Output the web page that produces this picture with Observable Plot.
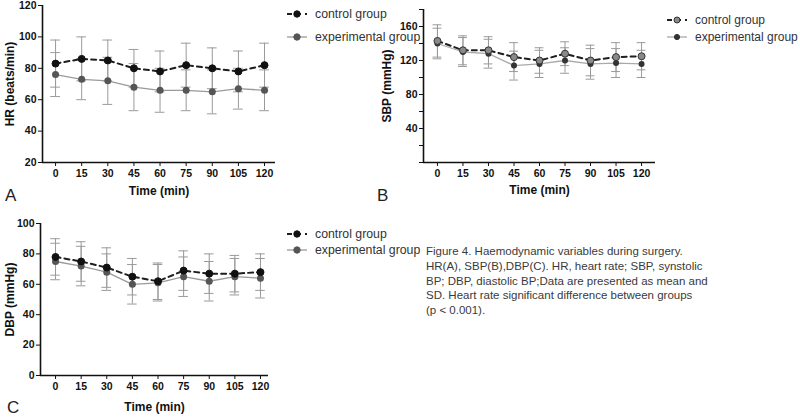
<!DOCTYPE html>
<html><head><meta charset="utf-8">
<script src="https://cdn.jsdelivr.net/npm/d3@7"></script>
<script src="https://cdn.jsdelivr.net/npm/@observablehq/plot@0.6"></script>
<style>
html,body{margin:0;padding:0;background:#fff;}
#wrap{position:relative;width:800px;height:417px;overflow:hidden;font-family:"Liberation Sans",Arial,sans-serif;}
.pan{position:absolute;}
.leg{position:absolute;font-size:13px;color:#333;white-space:nowrap;z-index:5;display:flex;align-items:center;}
.leg svg{margin-right:8px;}
.let{position:absolute;font-size:17px;color:#222;}
#cap{position:absolute;left:426px;top:244px;font-size:11.5px;line-height:14.8px;color:#3a3a3a;white-space:nowrap;z-index:5;}
</style></head>
<body><div id="wrap"></div>
<script>
// ---- data ----
const times = [0, 15, 30, 45, 60, 75, 90, 105, 120];
const groups = ["control group", "experimental group"];

const hrControl   = [83, 86, 85, 80, 78, 82, 80, 78, 82];
const hrControlSD = [15, 14, 13, 12, 13, 14, 13, 13, 14];
const hrExp       = [76, 73, 72, 68, 66, 66, 65, 67, 66];
const hrExpSD     = [14, 13, 15, 15, 14, 13, 14, 13, 13];

const sbpControl   = [143, 132, 132, 124, 120, 128, 120, 124, 125];
const sbpControlSD = [19, 17, 16, 17, 15, 14, 18, 17, 16];
const sbpExp       = [140, 130, 128, 114, 116, 120, 116, 117, 116];
const sbpExpSD     = [18, 17, 17, 17, 16, 15, 18, 17, 16];

const dbpControl   = [78, 75, 71, 65, 62, 69, 67, 67, 68];
const dbpControlSD = [12, 13, 13, 12, 12, 13, 13, 12, 12];
const dbpExp       = [75, 72, 68, 60, 61, 65, 62, 65, 64];
const dbpExpSD     = [12, 13, 12, 13, 12, 13, 13, 12, 13];

const hrTicks  = [20, 40, 60, 80, 100, 120];
const sbpTicks = [0, 20, 40, 60, 80, 100, 120, 140, 160, 180];
const sbpLabeled = [40, 80, 120, 160];
const dbpTicks = [0, 20, 40, 60, 80, 100];

const captionLines = [
  "Figure 4. Haemodynamic variables during surgery.",
  "HR(A), SBP(B),DBP(C). HR, heart rate; SBP, synstolic",
  "BP; DBP, diastolic BP;Data are presented as mean and",
  "SD. Heart rate significant difference between groups",
  "(p < 0.001)."
];

function rows(t, c, cs, e, es) {
  return t.flatMap((x, i) => [
    {t: x, g: groups[0], m: c[i], sd: cs[i]},
    {t: x, g: groups[1], m: e[i], sd: es[i]}
  ]);
}

function panel(o) {
  const data = o.data;
  const ctrl = data.filter(d => d.g === groups[0]);
  const exp = data.filter(d => d.g === groups[1]);
  const ch = o.capHalf;
  return Plot.plot({
    width: o.width, height: o.height,
    marginLeft: o.ml, marginRight: o.mr, marginTop: o.mt, marginBottom: o.mb,
    style: {fontFamily: "'Liberation Sans', Arial, sans-serif", fontSize: "10.5px", fontWeight: "bold", color: "#111", background: "transparent", overflow: "visible"},
    x: {domain: o.xDomain, ticks: times, tickSize: 4, tickPadding: 3, label: null},
    y: {domain: o.yDomain, ticks: o.yTicks, tickSize: 4, tickPadding: 2, label: null, tickFormat: o.yFormat || (d => d)},
    marks: [
      // error bars
      Plot.ruleX(data, {x: "t", y1: d => d.m - d.sd, y2: d => d.m + d.sd, stroke: "#9a9a9a", strokeWidth: 1}),
      Plot.ruleY(data, {y: d => d.m + d.sd, x1: d => d.t - ch, x2: d => d.t + ch, stroke: "#9a9a9a", strokeWidth: 1}),
      Plot.ruleY(data, {y: d => d.m - d.sd, x1: d => d.t - ch, x2: d => d.t + ch, stroke: "#9a9a9a", strokeWidth: 1}),
      // lines
      Plot.line(exp, {x: "t", y: "m", stroke: o.expLine, strokeWidth: 1.3}),
      Plot.line(ctrl, {x: "t", y: "m", stroke: "#1e1e1e", strokeWidth: 2, strokeDasharray: "5,4"}),
      Plot.dot(exp, {x: "t", y: "m", r: o.expR, fill: o.expDot}),
      Plot.dot(ctrl, {x: "t", y: "m", r: 3.5, fill: o.ctrlFill, stroke: o.ctrlStroke, strokeWidth: 1}),
      // axis lines
      Plot.ruleX([o.xDomain[0]], {stroke: "#111", strokeWidth: 1.6}),
      Plot.ruleY([o.yDomain[0]], {stroke: "#111", strokeWidth: 1.6}),
      // axis titles
      Plot.text([o.xlabel], {text: d => d, frameAnchor: "bottom", dy: o.xlabelDy, fontSize: 12, textAnchor: "middle", fill: "#111"}),
      Plot.text([o.ylabel], {text: d => d, frameAnchor: "left", dx: o.ylabelDx, rotate: -90, fontSize: 12, textAnchor: "middle", fill: "#111"})
    ]
  });
}

const wrap = document.getElementById("wrap");
function place(el, left, top) {
  const d = document.createElement("div");
  d.className = "pan"; d.style.left = left + "px"; d.style.top = top + "px";
  d.appendChild(el); wrap.appendChild(d);
}

place(panel({
  data: rows(times, hrControl, hrControlSD, hrExp, hrExpSD),
  width: 290, height: 200, ml: 42, mr: 15, mt: 5, mb: 38,
  xDomain: [-7.5, 126.3], yDomain: [20, 120], yTicks: hrTicks,
  capHalf: 2.8, xlabel: "Time (min)", xlabelDy: 32, ylabel: "HR (beats/min)", ylabelDx: -32,
  expLine: "#9a9a9a", expDot: "#555", expR: 3.5, ctrlFill: "#111", ctrlStroke: "#111"
}), 0, 0);

place(panel({
  data: rows(times, sbpControl, sbpControlSD, sbpExp, sbpExpSD),
  width: 290, height: 200, ml: 43, mr: 15, mt: 9, mb: 38,
  xDomain: [-8.2, 128.2], yDomain: [0, 180], yTicks: sbpTicks,
  yFormat: d => sbpLabeled.includes(d) ? d : "",
  capHalf: 2.6, xlabel: "Time (min)", xlabelDy: 31, ylabel: "SBP (mmHg)", ylabelDx: -36,
  expLine: "#aaa", expDot: "#333", expR: 3, ctrlFill: "#8a8a8a", ctrlStroke: "#333"
}), 380, 0);

place(panel({
  data: rows(times, dbpControl, dbpControlSD, dbpExp, dbpExpSD),
  width: 290, height: 200, ml: 40, mr: 22, mt: 8, mb: 40,
  xDomain: [-8.8, 124.7], yDomain: [0, 100], yTicks: dbpTicks,
  capHalf: 2.8, xlabel: "Time (min)", xlabelDy: 35, ylabel: "DBP (mmHg)", ylabelDx: -30,
  expLine: "#9a9a9a", expDot: "#555", expR: 3.5, ctrlFill: "#111", ctrlStroke: "#111"
}), 0, 215);

// legends
function legend(left, top, dashed, dotFill, dotStroke, label, lineColor, fs, r) {
  const d = document.createElement("div");
  d.className = "leg"; d.style.left = left + "px"; d.style.top = (top - 9) + "px"; d.style.height = "18px";
  d.style.fontSize = fs + "px";
  const s = d3.create("svg").attr("width", 20).attr("height", 10);
  s.append("line").attr("x1", 0).attr("x2", 20).attr("y1", 5).attr("y2", 5)
    .attr("stroke", lineColor).attr("stroke-width", dashed ? 2 : 1.3)
    .attr("stroke-dasharray", dashed ? "5,4" : null);
  s.append("circle").attr("cx", 10).attr("cy", 5).attr("r", r).attr("fill", dotFill).attr("stroke", dotStroke);
  d.appendChild(s.node());
  const t = document.createElement("span"); t.textContent = label; d.appendChild(t);
  wrap.appendChild(d);
}
legend(287, 14, true, "#111", "#111", groups[0], "#1e1e1e", 12.3, 3.2);
legend(287, 37, false, "#555", "#555", groups[1], "#9a9a9a", 12.3, 3.2);
legend(667, 20, true, "#8a8a8a", "#333", groups[0], "#1e1e1e", 12, 3);
legend(667, 37, false, "#333", "#333", groups[1], "#aaa", 12, 2.6);
legend(287, 234, true, "#111", "#111", groups[0], "#1e1e1e", 12.3, 3.2);
legend(287, 250, false, "#555", "#555", groups[1], "#9a9a9a", 12.3, 3.2);

// panel letters
[["A", 5, 186], ["B", 377, 186], ["C", 7, 398]].forEach(([t, x, y]) => {
  const d = document.createElement("div"); d.className = "let";
  d.style.left = x + "px"; d.style.top = y + "px"; d.textContent = t; wrap.appendChild(d);
});

const cap = document.createElement("div"); cap.id = "cap";
cap.innerHTML = captionLines.map(l => l.replace(/&/g,"&amp;").replace(/</g,"&lt;")).join("<br>");
wrap.appendChild(cap);
</script></body></html>
